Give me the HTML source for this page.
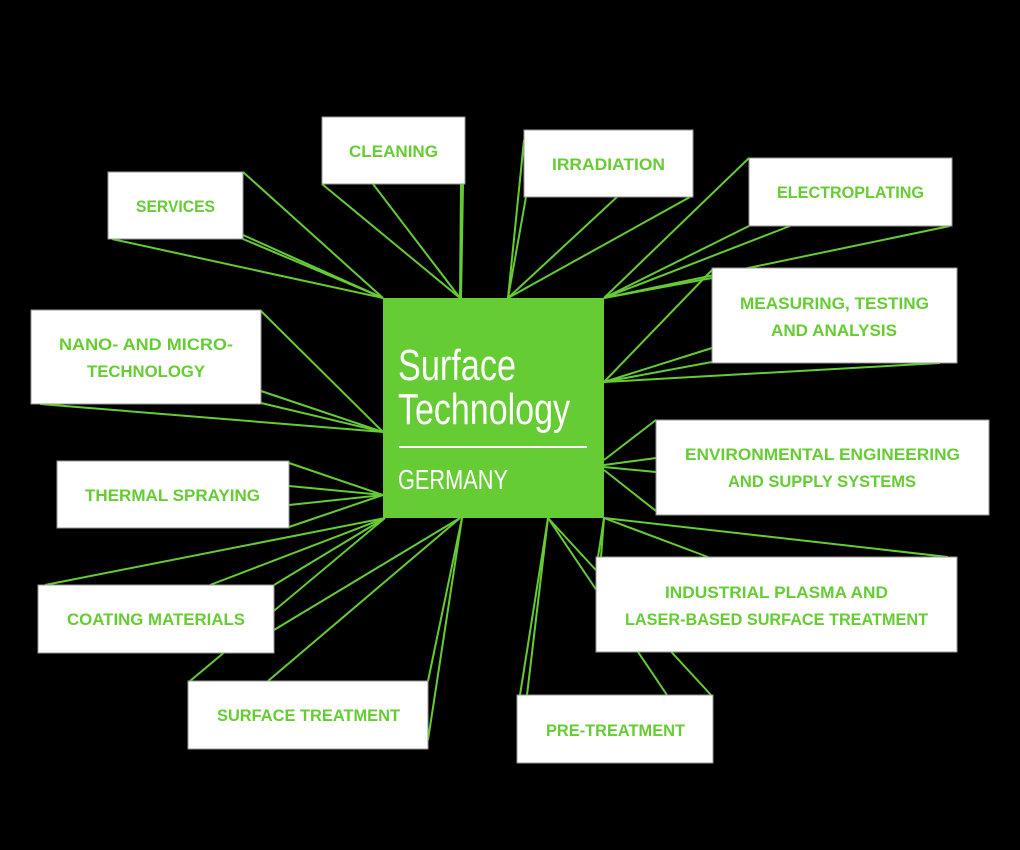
<!DOCTYPE html>
<html><head><meta charset="utf-8"><style>
html,body{margin:0;padding:0;background:#000;width:1020px;height:850px;overflow:hidden}
svg{display:block}
.l{font-family:"Liberation Sans",sans-serif;font-weight:bold;font-size:17px;fill:#66cc33}
.c{font-family:"Liberation Sans",sans-serif;fill:#fff}
</style></head><body>
<svg width="1020" height="850" viewBox="0 0 1020 850" xmlns="http://www.w3.org/2000/svg">
<rect width="1020" height="850" fill="#000"/>
<g stroke="#66cc33" stroke-width="2" fill="none">
<!-- services -->
<line x1="243" y1="172" x2="383" y2="298"/><line x1="243" y1="235" x2="383" y2="298"/><line x1="243" y1="239" x2="383" y2="298"/><line x1="112" y1="239" x2="383" y2="298"/>
<!-- cleaning -->
<line x1="322" y1="184" x2="460" y2="298"/><line x1="373" y1="184" x2="460" y2="298"/><line x1="461" y1="184" x2="460" y2="298"/><line x1="463" y1="184" x2="461" y2="298"/>
<!-- irradiation -->
<line x1="524" y1="140" x2="508" y2="298"/><line x1="526" y1="197" x2="508" y2="298"/><line x1="617" y1="197" x2="508" y2="298"/><line x1="690" y1="197" x2="508" y2="298"/>
<!-- electroplating -->
<line x1="749" y1="158" x2="604" y2="298"/><line x1="749" y1="226" x2="604" y2="298"/><line x1="790" y1="226" x2="604" y2="298"/><line x1="950" y1="226" x2="604" y2="298"/><line x1="712" y1="278" x2="604" y2="298"/>
<!-- measuring -->
<line x1="712" y1="270" x2="604" y2="382"/><line x1="712" y1="348" x2="604" y2="382"/><line x1="712" y1="362" x2="604" y2="382"/><line x1="940" y1="363" x2="604" y2="382"/>
<!-- nano -->
<line x1="261" y1="311" x2="383" y2="432"/><line x1="261" y1="391" x2="383" y2="432"/><line x1="261" y1="403" x2="383" y2="432"/><line x1="40" y1="404" x2="383" y2="432"/>
<!-- thermal -->
<line x1="289" y1="463" x2="383" y2="495"/><line x1="289" y1="486" x2="383" y2="495"/><line x1="289" y1="505" x2="383" y2="495"/><line x1="289" y1="527" x2="383" y2="495"/>
<!-- coating -->
<line x1="45" y1="585" x2="385" y2="518"/><line x1="210" y1="585" x2="385" y2="518"/><line x1="274" y1="585" x2="385" y2="518"/><line x1="190" y1="681" x2="385" y2="518"/>
<line x1="274" y1="630" x2="460" y2="518"/><line x1="268" y1="681" x2="460" y2="518"/>
<!-- surface treatment -->
<line x1="428" y1="681" x2="462" y2="518"/><line x1="428" y1="740" x2="462" y2="518"/>
<!-- pre-treatment -->
<line x1="520" y1="695" x2="548" y2="518"/><line x1="527" y1="695" x2="548" y2="518"/><line x1="667" y1="695" x2="548" y2="518"/><line x1="711" y1="695" x2="548" y2="518"/>
<!-- industrial -->
<line x1="598" y1="557" x2="604" y2="518"/><line x1="601" y1="557" x2="604" y2="518"/><line x1="708" y1="557" x2="604" y2="518"/><line x1="948" y1="557" x2="604" y2="518"/>
<!-- env -->
<line x1="656" y1="420" x2="604" y2="460"/><line x1="656" y1="458" x2="604" y2="465"/><line x1="656" y1="472" x2="604" y2="467"/><line x1="656" y1="511" x2="604" y2="470"/>
</g>
<g fill="#fff" stroke="#999" stroke-width="1">
<rect x="322" y="117" width="143" height="67"/>
<rect x="108" y="172" width="135" height="67"/>
<rect x="524" y="130" width="169" height="67"/>
<rect x="749" y="158" width="203" height="68"/>
<rect x="712" y="268" width="245" height="95"/>
<rect x="31" y="310" width="230" height="94"/>
<rect x="57" y="461" width="232" height="67"/>
<rect x="656" y="420" width="333" height="95"/>
<rect x="38" y="585" width="236" height="68"/>
<rect x="188" y="681" width="240" height="68"/>
<rect x="596" y="557" width="361" height="95"/>
<rect x="517" y="695" width="196" height="68"/>
</g>
<rect x="383" y="298" width="221" height="220" fill="#66cc33"/>
<text class="c" x="398" y="380" font-size="44" textLength="118" lengthAdjust="spacingAndGlyphs">Surface</text>
<text class="c" x="398" y="424" font-size="44" textLength="172" lengthAdjust="spacingAndGlyphs">Technology</text>
<rect x="399" y="446" width="188" height="2" fill="#fff"/>
<text class="c" x="398" y="489" font-size="28" textLength="110" lengthAdjust="spacingAndGlyphs">GERMANY</text>
<g class="l">
<text x="349" y="157" textLength="89" lengthAdjust="spacingAndGlyphs">CLEANING</text>
<text x="136" y="212" textLength="79" lengthAdjust="spacingAndGlyphs">SERVICES</text>
<text x="552" y="170" textLength="113" lengthAdjust="spacingAndGlyphs">IRRADIATION</text>
<text x="777" y="198" textLength="147" lengthAdjust="spacingAndGlyphs">ELECTROPLATING</text>
<text x="740" y="309" textLength="189" lengthAdjust="spacingAndGlyphs">MEASURING, TESTING</text>
<text x="771" y="336" textLength="126" lengthAdjust="spacingAndGlyphs">AND ANALYSIS</text>
<text x="59" y="350" textLength="174" lengthAdjust="spacingAndGlyphs">NANO- AND MICRO-</text>
<text x="87" y="377" textLength="118" lengthAdjust="spacingAndGlyphs">TECHNOLOGY</text>
<text x="85" y="501" textLength="175" lengthAdjust="spacingAndGlyphs">THERMAL SPRAYING</text>
<text x="685" y="460" textLength="275" lengthAdjust="spacingAndGlyphs">ENVIRONMENTAL ENGINEERING</text>
<text x="728" y="487" textLength="188" lengthAdjust="spacingAndGlyphs">AND SUPPLY SYSTEMS</text>
<text x="67" y="625" textLength="178" lengthAdjust="spacingAndGlyphs">COATING MATERIALS</text>
<text x="217" y="721" textLength="183" lengthAdjust="spacingAndGlyphs">SURFACE TREATMENT</text>
<text x="665" y="598" textLength="223" lengthAdjust="spacingAndGlyphs">INDUSTRIAL PLASMA AND</text>
<text x="625" y="625" textLength="303" lengthAdjust="spacingAndGlyphs">LASER-BASED SURFACE TREATMENT</text>
<text x="546" y="736" textLength="139" lengthAdjust="spacingAndGlyphs">PRE-TREATMENT</text>
</g>
</svg>
</body></html>
